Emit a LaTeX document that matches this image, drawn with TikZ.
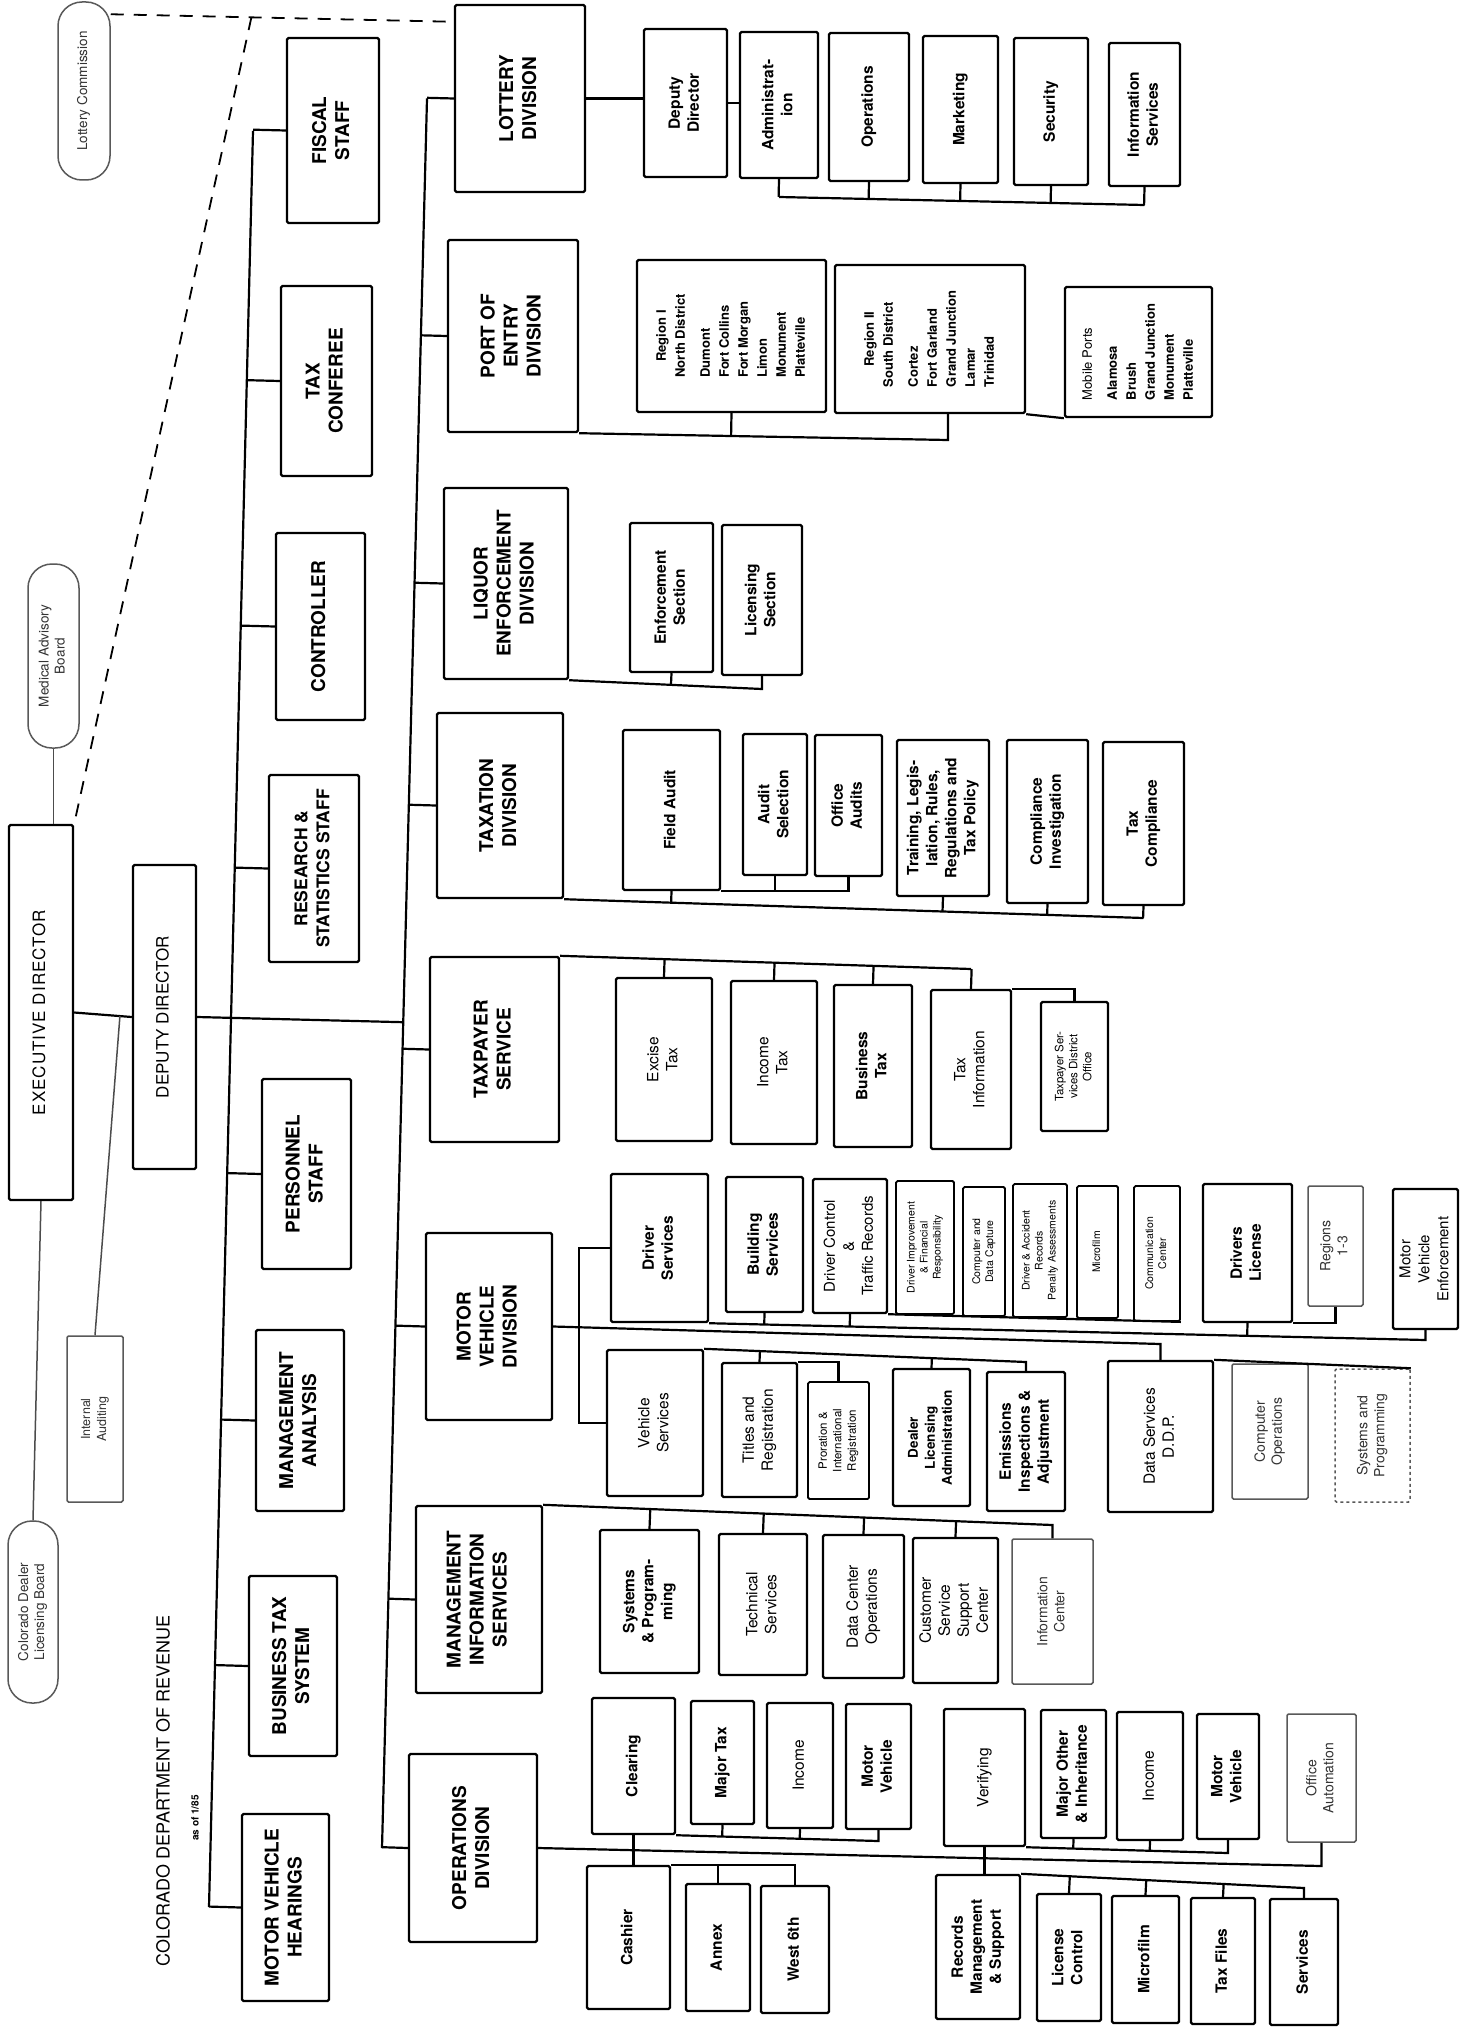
\documentclass[tikz,border=0pt]{standalone}
\usepackage{fontspec}
\setmainfont{TeX Gyre Heros}
\usepackage{graphicx}
\usetikzlibrary{calc}

% rotated (bottom-to-top) text blocks
\newcommand{\rt}[1]{\rotatebox{90}{\begin{tabular}{@{}c@{}}#1\end{tabular}}}
\newcommand{\rtl}[1]{\rotatebox{90}{\begin{tabular}{@{}l@{}}#1\end{tabular}}}

\begin{document}
\begin{tikzpicture}[x=1pt,y=-1pt,
box/.style={draw,line width=2.4pt,rounded corners=1.5pt,inner sep=1pt},
hd/.style={box,font=\bfseries\fontsize{19}{23}\selectfont},
sb/.style={box,font=\bfseries\fontsize{15.5}{19}\selectfont},
lt/.style={box,font=\fontsize{15.5}{19}\selectfont},
sm/.style={box,line width=1.8pt,font=\fontsize{10.5}{13}\selectfont},
faint/.style={box,draw=black!65,line width=1.5pt,text=black!80,font=\fontsize{14}{17}\selectfont},
pill/.style={draw=black!65,line width=1.5pt,rounded corners=24pt,inner sep=1pt,text=black!80,font=\fontsize{13.5}{16}\selectfont},
sz/.style 2 args={minimum width=#1pt,minimum height=#2pt},
ln/.style={line width=2.2pt},
dsh/.style={line width=1.8pt,dash pattern=on 13pt off 10pt}
]
\fill[white] (0,0) rectangle (1470,2028);
\useasboundingbox (0,0) rectangle (1470,2028);

% boards, director, deputy
\node[pill,sz={52}{178}] (lotcom) at (84,91) {\rt{Lottery Commission}};
\node[pill,sz={51}{184}] (mab) at (53.5,656) {\rt{Medical Advisory\\Board}};
\node[pill,sz={50}{182}] (cdlb) at (33,1612) {\rt{Colorado Dealer\\Licensing Board}};
\node[box,sz={64}{375},font=\fontsize{17}{21}\selectfont\addfontfeatures{LetterSpace=6}] (exec) at (41,1012.5) {\rt{EXECUTIVE DIRECTOR}};
\node[box,sz={63}{304},font=\fontsize{17}{21}\selectfont] (deputy) at (164.5,1017) {\rt{DEPUTY DIRECTOR}};
\node[faint,sz={56}{166},font=\fontsize{12.5}{16}\selectfont] (intaud) at (95,1419) {\rt{Internal\\Auditing}};
\node[rotate=90,font=\fontsize{18}{22}\selectfont] (title) at (163,1791) {COLORADO DEPARTMENT OF REVENUE};
\node[rotate=90,font=\bfseries\fontsize{10}{12}\selectfont] (asof) at (195,1818) {as of 1/85};

% staff column
\node[hd,sz={92}{185}] (fiscal) at (333,130.5) {\rt{FISCAL\\STAFF}};
\node[hd,sz={91}{190}] (taxconf) at (326.5,381) {\rt{TAX\\CONFEREE}};
\node[hd,sz={89}{187}] (ctrl) at (320.5,626.5) {\rt{CONTROLLER}};
\node[hd,sz={90}{187},font=\bfseries\fontsize{17.5}{22}\selectfont] (rss) at (314,868.5) {\rt{RESEARCH \&\\STATISTICS STAFF}};
\node[hd,sz={89}{190}] (pers) at (306.5,1174) {\rt{PERSONNEL\\STAFF}};
\node[hd,sz={88}{181}] (mgan) at (300,1420.5) {\rt{MANAGEMENT\\ANALYSIS}};
\node[hd,sz={88}{180}] (bts) at (293,1666) {\rt{BUSINESS TAX\\SYSTEM}};
\node[hd,sz={87}{187}] (mvh) at (285.5,1907.5) {\rt{MOTOR VEHICLE\\HEARINGS}};

% division column
\node[hd,sz={130}{187}] (lotdiv) at (520,98.5) {\rt{LOTTERY\\DIVISION}};
\node[hd,sz={130}{192}] (poe) at (513,336) {\rt{PORT OF\\ENTRY\\DIVISION}};
\node[hd,sz={124}{191}] (liq) at (506,583.5) {\rt{LIQUOR\\ENFORCEMENT\\DIVISION}};
\node[hd,sz={126}{185}] (taxd) at (500,805.5) {\rt{TAXATION\\DIVISION}};
\node[hd,sz={129}{185}] (tps) at (494.5,1049.5) {\rt{TAXPAYER\\SERVICE}};
\node[hd,sz={126}{187}] (mvd) at (489,1326.5) {\rt{MOTOR\\VEHICLE\\DIVISION}};
\node[hd,sz={126}{187}] (mis) at (479,1599.5) {\rt{MANAGEMENT\\INFORMATION\\SERVICES}};
\node[hd,sz={128}{188}] (ops) at (473,1848) {\rt{OPERATIONS\\DIVISION}};

% lottery units
\node[sb,sz={83}{148}] (ldep) at (685.5,103) {\rt{Deputy\\Director}};
\node[sb,sz={78}{146}] (ladm) at (779,105) {\rt{Administrat-\\ion}};
\node[sb,sz={80}{148}] (lops) at (869,107) {\rt{Operations}};
\node[sb,sz={75}{147}] (lmkt) at (960.5,109.5) {\rt{Marketing}};
\node[sb,sz={74}{147}] (lsec) at (1051,111.5) {\rt{Security}};
\node[sb,sz={71}{143}] (linf) at (1144.5,114.5) {\rt{Information\\Services}};

% port of entry units
\node[box,sz={189}{152},font=\bfseries\fontsize{13}{19}\selectfont] (reg1) at (731.5,336)
  {\rtl{\multicolumn{1}{@{}c@{}}{Region I}\\North District\\[6pt]Dumont\\Fort Collins\\Fort Morgan\\Limon\\Monument\\Platteville}};
\node[box,sz={190}{148},font=\bfseries\fontsize{13}{19}\selectfont] (reg2) at (930,339)
  {\rtl{\multicolumn{1}{@{}c@{}}{Region II}\\South District\\[6pt]Cortez\\Fort Garland\\Grand Junction\\Lamar\\Trinidad}};
\node[box,sz={147}{130},font=\bfseries\fontsize{13}{19}\selectfont] (mob) at (1138.5,352)
  {\rtl{\mdseries Mobile Ports\\[6pt]Alamosa\\Brush\\Grand Junction\\Monument\\Platteville}};

% liquor units
\node[sb,sz={83}{149}] (enf) at (671.5,597.5) {\rt{Enforcement\\Section}};
\node[sb,sz={80}{150}] (lic) at (762,600) {\rt{Licensing\\Section}};

% taxation units
\node[sb,sz={97}{160}] (fa) at (671.5,810) {\rt{Field Audit}};
\node[sb,sz={64}{141}] (aus) at (775,804.5) {\rt{Audit\\Selection}};
\node[sb,sz={67}{141}] (offa) at (848.5,805.5) {\rt{Office\\Audits}};
\node[sb,sz={92}{156}] (trn) at (943,818) {\rt{Training, Legis-\\lation, Rules,\\Regulations and\\Tax Policy}};
\node[sb,sz={81}{163}] (ci) at (1047.5,821.5) {\rt{Compliance\\Investigation}};
\node[sb,sz={81}{163}] (tc) at (1143.5,823.5) {\rt{Tax\\Compliance}};

% taxpayer service units
\node[lt,sz={96}{163}] (ext) at (664,1059.5) {\rt{Excise\\Tax}};
\node[lt,sz={86}{163}] (inct) at (774,1062.5) {\rt{Income\\Tax}};
\node[sb,sz={78}{162}] (bust) at (873,1066) {\rt{Business\\Tax}};
\node[lt,sz={80}{159}] (tinf) at (971,1069.5) {\rt{Tax\\Information}};
\node[box,sz={67}{129},font=\fontsize{11.5}{14}\selectfont] (tsdo) at (1074.5,1066.5) {\rt{Taxpayer Ser-\\vices District\\Office}};

% motor vehicle units
\node[sb,sz={97}{148}] (dsv) at (659.5,1248) {\rt{Driver\\Services}};
\node[sb,sz={77}{135}] (bsv) at (764.5,1244.5) {\rt{Building\\Services}};
\node[box,sz={74}{134},font=\fontsize{15}{19}\selectfont] (dctr) at (850,1246) {\rt{Driver Control\\\&\\Traffic Records}};
\node[sm,sz={58}{133}] (dimp) at (925,1247.5) {\rt{Driver Improvement\\\& Financial\\Responsibility}};
\node[sm,sz={42}{129}] (cdc) at (984,1251.5) {\rt{Computer and\\Data Capture}};
\node[sm,sz={54}{133}] (dar) at (1040,1250.5) {\rt{Driver \& Accident\\Records\\Penalty Assessments}};
\node[sm,sz={41}{132}] (mfm) at (1097.5,1252) {\rt{Microfilm}};
\node[sm,sz={46}{135}] (comc) at (1157,1253.5) {\rt{Communication\\Center}};
\node[sb,sz={89}{138}] (dlic) at (1247.5,1253) {\rt{Drivers\\License}};
\node[faint,sz={55}{120}] (rg13) at (1335.5,1246) {\rt{Regions\\1-3}};
\node[box,sz={65}{140},font=\fontsize{15}{19}\selectfont] (mve) at (1425.5,1259) {\rt{Motor\\Vehicle\\Enforcement}};
\node[lt,sz={96}{146}] (vsv) at (655,1423) {\rt{Vehicle\\Services}};
\node[lt,sz={75}{134}] (ttr) at (759.5,1430) {\rt{Titles and\\Registration}};
\node[box,line width=1.8pt,sz={61}{117},font=\fontsize{11.5}{14.5}\selectfont] (pro) at (838.5,1440.5) {\rt{Proration \&\\International\\Registration}};
\node[box,sz={77}{137},font=\bfseries\fontsize{13.5}{17}\selectfont] (dla) at (931.5,1437.5) {\rt{Dealer\\Licensing\\Administration}};
\node[sb,sz={78}{139}] (emi) at (1026,1441.5) {\rt{Emissions\\Inspections \&\\Adjustment}};
\node[lt,sz={105}{151}] (dds) at (1160.5,1436.5) {\rt{Data Services\\D.D.P.}};
\node[faint,sz={76}{135}] (cop) at (1270,1431.5) {\rt{Computer\\Operations}};
\node[faint,dashed,sz={75}{133}] (snp) at (1372.5,1435.5) {\rt{Systems and\\Programming}};

% management information services units
\node[sb,sz={99}{143}] (msp) at (649.5,1601.5) {\rt{Systems\\\& Program-\\ming}};
\node[lt,sz={88}{141}] (tsv) at (763,1604.5) {\rt{Technical\\Services}};
\node[lt,sz={81}{143}] (dco) at (863.5,1606.5) {\rt{Data Center\\Operations}};
\node[lt,sz={85}{145}] (css) at (955.5,1610.5) {\rt{Customer\\Service\\Support\\Center}};
\node[faint,sz={81}{145}] (icn) at (1052.5,1611.5) {\rt{Information\\Center}};

% operations units
\node[sb,sz={83}{136}] (clr) at (633.5,1766) {\rt{Clearing}};
\node[sb,sz={63}{123}] (mjt) at (722.5,1762.5) {\rt{Major Tax}};
\node[lt,sz={66}{125}] (inc1) at (800,1765.5) {\rt{Income}};
\node[sb,sz={65}{125}] (mvh1) at (878.5,1766.5) {\rt{Motor\\Vehicle}};
\node[sb,sz={83}{143}] (csh) at (628.5,1937.5) {\rt{Cashier}};
\node[sb,sz={64}{127}] (anx) at (718,1947.5) {\rt{Annex}};
\node[sb,sz={68}{127}] (w6) at (795,1949.5) {\rt{West 6th}};
\node[lt,sz={81}{137}] (ver) at (984.5,1777.5) {\rt{Verifying}};
\node[sb,sz={65}{128}] (moi) at (1073.5,1774) {\rt{Major Other\\\& Inheritance}};
\node[lt,sz={66}{128}] (inc2) at (1150,1776) {\rt{Income}};
\node[sb,sz={62}{125}] (mvh2) at (1228,1776.5) {\rt{Motor\\Vehicle}};
\node[faint,sz={69}{128}] (oau) at (1321.5,1778) {\rt{Office\\Automation}};
\node[sb,sz={84}{144}] (rms) at (978,1947) {\rt{Records\\Management\\\& Support}};
\node[sb,sz={64}{127}] (lcn) at (1069,1957.5) {\rt{License\\Control}};
\node[sb,sz={67}{127}] (mfl) at (1145.5,1959.5) {\rt{Microfilm}};
\node[sb,sz={64}{126}] (tfl) at (1223,1961) {\rt{Tax Files}};
\node[sb,sz={68}{126}] (svc) at (1304,1962) {\rt{Services}};

% top level links
\draw[ln] (exec.east) -- (deputy.west);
\draw[ln,black!70,line width=1.5pt] (intaud.north) -- ($(exec.east)!(intaud.north)!(deputy.west)$);
\draw[ln,black!70,line width=1.5pt] (mab.south) -- (mab.south |- exec.north);
\draw[ln,black!70,line width=1.5pt] (exec.south) -- (cdlb.north);
\draw[dsh] ([yshift=-13pt]lotcom.north east) -- coordinate[pos=0.41] (dj) ([yshift=-18pt]lotdiv.north west);
\draw[dsh] (dj) -- (exec.north east);

% staff spine
\coordinate (sp1) at (253,131);
\coordinate (sp2) at (209,1907);
\draw[ln] (sp1) -- (sp2);
\foreach \s in {fiscal,taxconf,ctrl,rss,pers,mgan,bts,mvh}
  \draw[ln] (\s.west) -- ($(sp1)!(\s.west)!(sp2)$);

% division spine
\coordinate (dv1) at (427,98.5);
\coordinate (dv2) at (382,1848);
\draw[ln] (dv1) -- (dv2);
\draw[ln] (deputy.east) -- ($(dv1)!(deputy.east)!(dv2)$);
\foreach \d in {lotdiv,poe,liq,taxd,tps,mvd,mis,ops}
  \draw[ln] (\d.west) -- ($(dv1)!(\d.west)!(dv2)$);

% lottery
\draw[ln] (lotdiv.east) -- (lotdiv.east -| ldep.west);
\draw[ln] (ldep.east) -- (ldep.east -| ladm.west);
\coordinate (la) at (779,197);
\coordinate (lb) at (1144.5,205);
\draw[ln] (la) -- (lb);
\foreach \b in {ladm,lops,lmkt,lsec,linf}
  \draw[ln] (\b.south) -- ($(la)!(\b.south)!(lb)$);

% port of entry
\coordinate (pb) at (948,440);
\draw[ln] (poe.south east) -- (pb) -- (pb |- reg2.south);
\draw[ln] (reg1.south) -- ($(poe.south east)!(reg1.south)!(pb)$);
\draw[ln] (reg2.south east) -- (mob.south west);

% liquor
\coordinate (qb) at (762,689);
\draw[ln] (liq.south east) -- (qb) -- (lic.south);
\draw[ln] (enf.south) -- ($(liq.south east)!(enf.south)!(qb)$);

% taxation
\coordinate (tb) at (1143.5,918);
\draw[ln] (taxd.south east) -- (tb);
\foreach \b in {fa,trn,ci,tc}
  \draw[ln] (\b.south) -- ($(taxd.south east)!(\b.south)!(tb)$);
\draw[ln] (fa.south east) -- (offa.south |- fa.south east) -- (offa.south);
\draw[ln] (aus.south) -- (aus.south |- fa.south east);

% taxpayer service
\coordinate (pt) at (971,969);
\draw[ln] (tps.north east) -- (pt);
\foreach \b in {ext,inct,bust,tinf}
  \draw[ln] (\b.north) -- ($(tps.north east)!(\b.north)!(pt)$);
\draw[ln] (tinf.north east) -- (tsdo.north |- tinf.north east) -- (tsdo.north);

% motor vehicle
\coordinate (mm) at (1160.5,1344);
\draw[ln] (mvd.east) -- (mm) -- (dds.north);
\draw[ln] (dsv.west) -- ++(-31,0) |- (vsv.west);
\coordinate (mu) at (1425.5,1340);
\draw[ln] (dsv.south east) -- (mu) -- (mve.south);
\foreach \b in {bsv,dctr,dlic}
  \draw[ln] (\b.south) -- ($(dsv.south east)!(\b.south)!(mu)$);
\draw[ln] (dctr.south east) -- (comc.south east);
\draw[ln] (dlic.south east) -- (rg13.south |- dlic.south east) -- (rg13.south);
\coordinate (ml) at (1026,1362);
\draw[ln] (vsv.north east) -- (ml) -- (emi.north);
\foreach \b in {ttr,dla}
  \draw[ln] (\b.north) -- ($(vsv.north east)!(\b.north)!(ml)$);
\draw[ln] (ttr.north east) -- (pro.north |- ttr.north east) -- (pro.north);
\draw[ln] (dds.north east) -- (snp.north east);

% management information services
\coordinate (mb) at (1052.5,1525);
\draw[ln] (mis.north east) -- (mb) -- (icn.north);
\foreach \b in {msp,tsv,dco,css}
  \draw[ln] (\b.north) -- ($(mis.north east)!(\b.north)!(mb)$);

% operations
\coordinate (ob) at (1321.5,1866);
\draw[ln] (ops.east) -- (ob) -- (oau.south);
\draw[ln] (clr.south) -- (clr.south |- csh.north);
\draw[ln] (csh.north east) -- (w6.north |- csh.north east) -- (w6.north);
\draw[ln] (anx.north) -- (anx.north |- csh.north east);
\coordinate (cb) at (878.5,1841);
\draw[ln] (clr.south east) -- (cb) -- (mvh1.south);
\foreach \b in {mjt,inc1}
  \draw[ln] (\b.south) -- ($(clr.south east)!(\b.south)!(cb)$);
\draw[ln] (ver.south) -- (ver.south |- rms.north);
\coordinate (vb) at (1228,1853);
\draw[ln] (ver.south east) -- (vb) -- (mvh2.south);
\foreach \b in {moi,inc2}
  \draw[ln] (\b.south) -- ($(ver.south east)!(\b.south)!(vb)$);
\coordinate (rb) at (1304,1888);
\draw[ln] (rms.north east) -- (rb) -- (svc.north);
\foreach \b in {lcn,mfl,tfl}
  \draw[ln] (\b.north) -- ($(rms.north east)!(\b.north)!(rb)$);
\end{tikzpicture}
\end{document}
